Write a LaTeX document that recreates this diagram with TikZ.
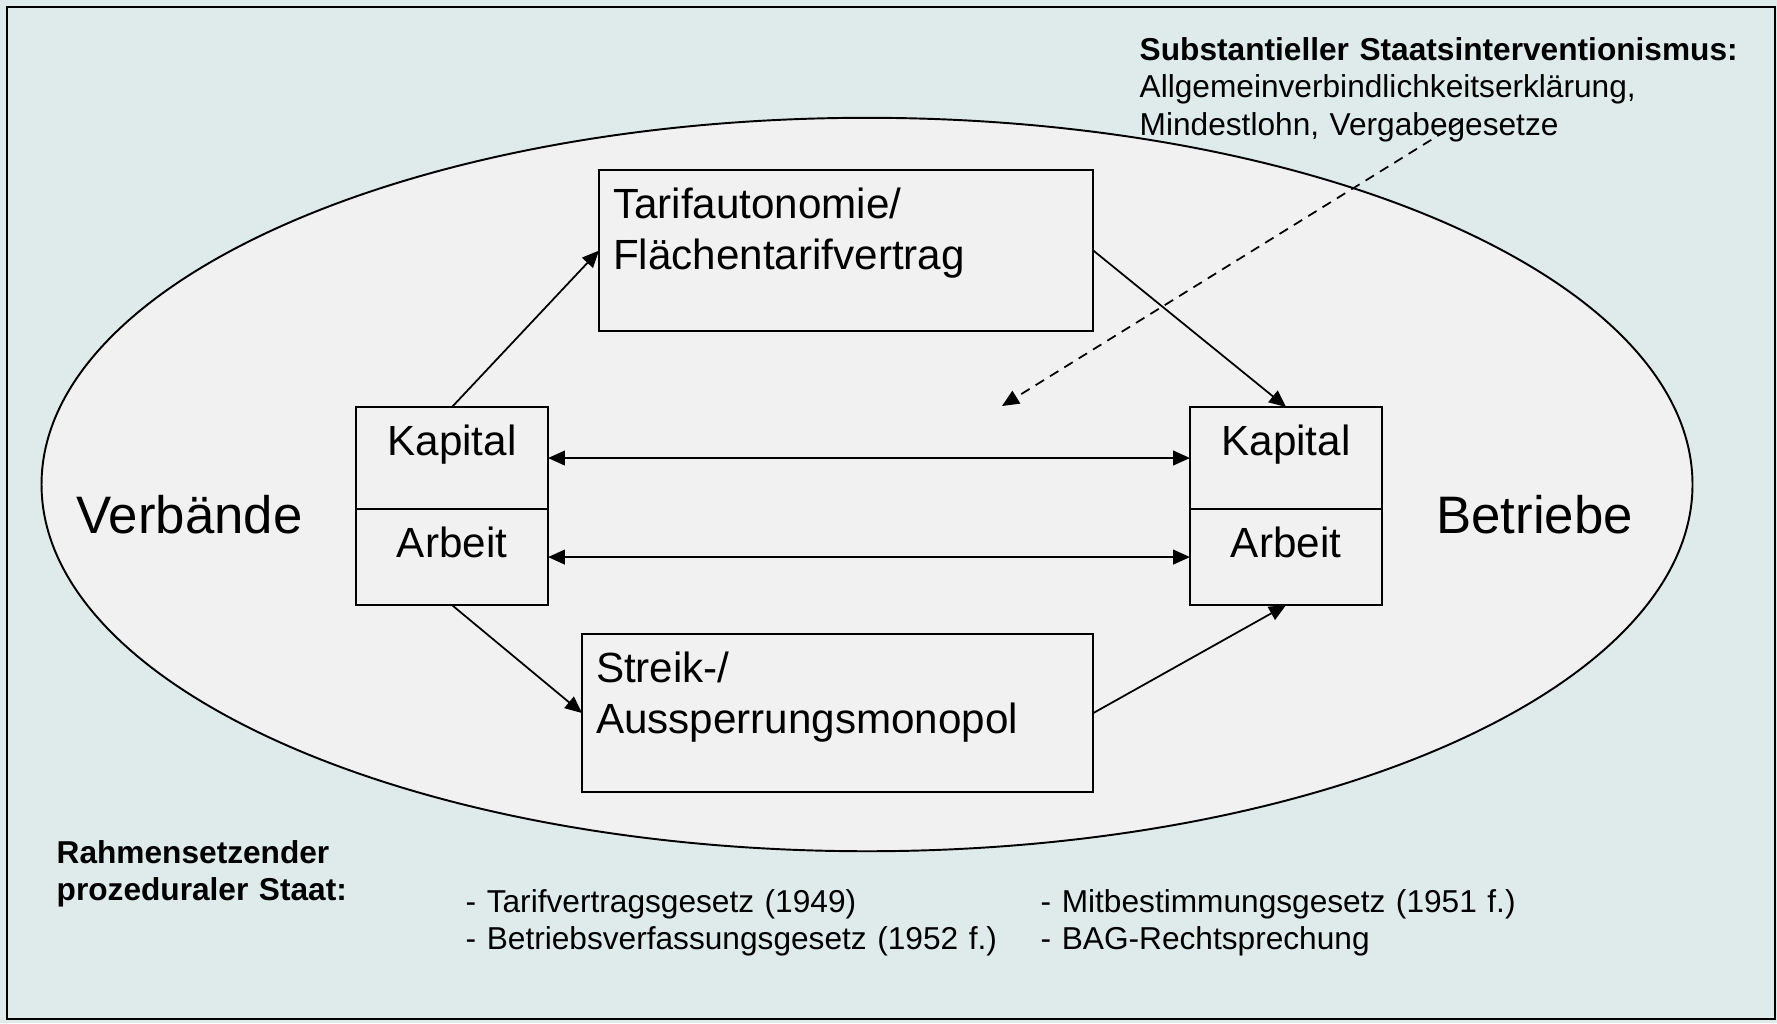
\documentclass[tikz,border=0pt]{standalone}
\usepackage{fontspec}
\setmainfont{Liberation Sans}
\frenchspacing
\usetikzlibrary{arrows.meta, positioning}
\definecolor{hellblau}{RGB}{222, 235, 234}
\definecolor{hellgrau}{RGB}{241, 241, 241}
\tikzset{
  kasten/.style={
    draw, line width=0.6pt, outer sep=0pt, inner sep=0.14cm, anchor=base west,
    align=left, text height=0.34cm, font=\fontsize{12pt}{14.5pt}\selectfont
  },
  feld/.style={
    draw, line width=0.6pt, outer sep=0pt, inner sep=0pt, minimum width=1.92cm,
    text height=0.48cm, text depth=0.48cm, font=\fontsize{12pt}{14.5pt}\selectfont
  },
  gross/.style={inner sep=0pt, anchor=base, font=\fontsize{15pt}{18pt}\selectfont},
  klein/.style={
    inner sep=0pt, anchor=base west, align=left, text width=#1,
    font=\fontsize{9pt}{10.7pt}\selectfont
  },
  klein/.default=5cm,
  pfeil/.style={-{Triangle[length=4.8pt, width=4.2pt]}, line width=0.5pt},
  doppelpfeil/.style={{Triangle[length=4.8pt, width=4.2pt]}-{Triangle[length=4.8pt, width=4.2pt]}, line width=0.5pt},
  gestrichelt/.style={pfeil, dash pattern=on 2.8pt off 2pt},
}
\begin{document}
\begin{tikzpicture}[x=0.01cm, y=-0.01cm]
  \useasboundingbox (0,0) rectangle (1777,1023);
  \fill[hellblau] (0,0) rectangle (1777,1023);
  \draw[line width=0.8pt] (7,7) rectangle (1775,1019);
  \draw[fill=hellgrau, line width=0.55pt] (867,484.5) ellipse [x radius=8.25cm, y radius=3.665cm];

  \node[kasten, text width=4.66cm, text depth=0.99cm] (tarif) at (599,218)
    {Tarifautonomie/\\Flächentarifvertrag};
  \node[kasten, text width=4.83cm, text depth=0.96cm] (streik) at (582,682)
    {Streik-/\\Aussperrungsmonopol};

  \node[feld, anchor=base, text depth=0.54cm] (lk) at (452,455) {Kapital};
  \node[feld, below=0pt of lk] (la) {Arbeit};
  \node[feld, anchor=base, text depth=0.54cm] (rk) at (1286,455) {Kapital};
  \node[feld, below=0pt of rk] (ra) {Arbeit};

  \node[gross] (verbaende) at (189.5,533) {Verbände};
  \node[gross] (betriebe) at (1534.5,533) {Betriebe};

  \node[klein=6.3cm] (staat) at (1139,60)
    {\textbf{Substantieller Staatsinterventionismus:}\\Allgemeinverbindlichkeitserklärung,\\Mindestlohn, Vergabegesetze};
  \node[klein=3.3cm] (rahmen) at (56,863)
    {\textbf{Rahmensetzender}\\\textbf{prozeduraler Staat:}};
  \node[klein=5.5cm] (gesetze1) at (465,912)
    {- Tarifvertragsgesetz (1949)\\- Betriebsverfassungsgesetz (1952 f.)};
  \node[klein=5.2cm] (gesetze2) at (1040,912)
    {- Mitbestimmungsgesetz (1951 f.)\\- BAG-Rechtsprechung};

  \coordinate (von) at (1460,122);
  \coordinate (nach) at (1002,406);

  \draw[pfeil] (lk.north) -- (tarif.west);
  \draw[pfeil] (tarif.east) -- (rk.north);
  \draw[pfeil] (la.south) -- (streik.west);
  \draw[pfeil] (streik.east) -- (ra.south);
  \draw[doppelpfeil] (lk.east) -- (rk.west);
  \draw[doppelpfeil] (la.east) -- (ra.west);
  \draw[gestrichelt] (von) -- (nach);
\end{tikzpicture}
\end{document}
